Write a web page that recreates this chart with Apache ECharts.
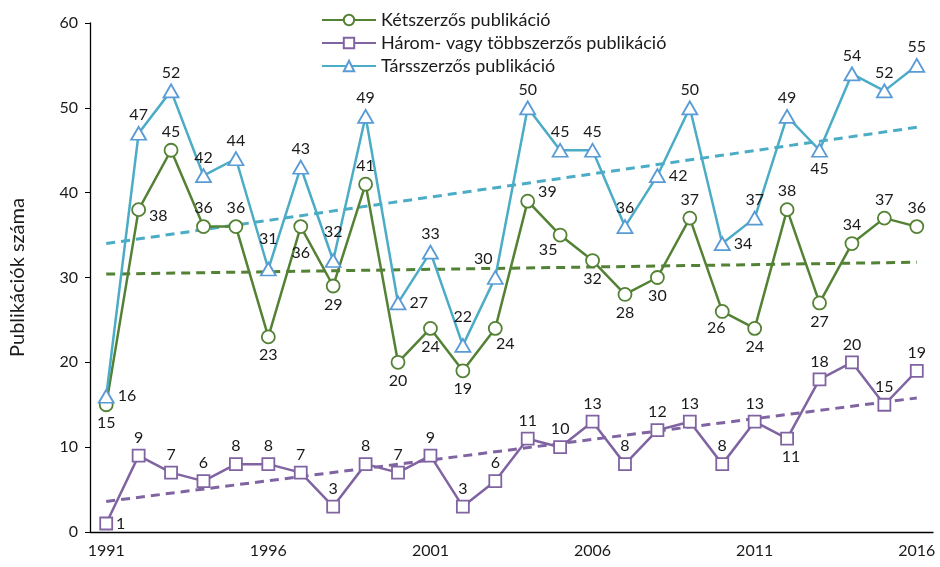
<!DOCTYPE html>
<html>
<head>
<meta charset="utf-8">
<script src="https://cdn.jsdelivr.net/npm/echarts@6/dist/echarts.min.js"></script>
<style>
  html, body { margin: 0; padding: 0; background: #fff; }
  #chart { width: 940px; height: 567px; }
</style>
</head>
<body>
<div id="chart"></div>
<script>
const years = ['1991','1992','1993','1994','1995','1996','1997','1998','1999','2000','2001','2002','2003',
  '2004','2005','2006','2007','2008','2009','2010','2011','2012','2013','2014','2015','2016'];
const ketszerzos = [15, 38, 45, 36, 36, 23, 36, 29, 41, 20, 24, 19, 24, 39, 35, 32, 28, 30, 37, 26, 24, 38, 27, 34, 37, 36];
const harom = [1, 9, 7, 6, 8, 8, 7, 3, 8, 7, 9, 3, 6, 11, 10, 13, 8, 12, 13, 8, 13, 11, 18, 20, 15, 19];
const tarsszerzos = [16, 47, 52, 42, 44, 31, 43, 32, 49, 27, 33, 22, 30, 50, 45, 45, 36, 42, 50, 34, 37, 49, 45, 54, 52, 55];
// trend line end values (1991, 2016)
const trendKet = [30.4, 31.8];
const trendHarom = [3.6, 15.8];
const trendTars = [34.0, 47.7];

// label placement per point: [position, dx, dy]
const posKet = [['bottom'],['right',0,6],['top'],['top'],['top'],['bottom'],['bottom',0,8],['bottom'],['top'],['bottom'],
  ['bottom'],['bottom'],['bottom',10,-3],['right',0,-9],['bottom',-12,-4],['bottom'],['bottom'],['bottom'],['top'],
  ['bottom',-6,-2],['bottom'],['top'],['bottom'],['top'],['top'],['top']];
const posHarom = years.map((y, i) => i === 0 ? ['right'] : (i === 21 ? ['bottom', 4, 0] : ['top']));
const posTars = years.map(() => ['top']);
posTars[0] = ['right'];
posTars[5] = ['top', 0, -12];
posTars[7] = ['top', 0, -10];
posTars[9] = ['right'];
posTars[11] = ['top', 0, -10];
posTars[12] = ['top', -12, 0];
posTars[17] = ['right'];
posTars[19] = ['right'];
posTars[22] = ['bottom'];

const FONT = 'Lato';

function withLabels(values, pos) {
  return values.map((v, i) => ({
    value: v,
    label: { position: pos[i][0], offset: [pos[i][1] || 0, pos[i][2] || 0] }
  }));
}

function trend(ends) {
  return years.map((y, i) => i === 0 ? ends[0] : (i === years.length - 1 ? ends[1] : null));
}

const labelStyle = { show: true, color: '#1a1a1a', fontSize: 16, fontFamily: FONT, distance: 3 };

const chart = echarts.init(document.getElementById('chart'));
chart.setOption({
  animation: false,
  textStyle: { fontFamily: FONT },
  grid: { left: 89, right: 7, top: 23, bottom: 35 },
  legend: {
    orient: 'vertical',
    left: 316,
    top: 5,
    itemWidth: 54,
    itemHeight: 13,
    itemGap: 3,
    textStyle: { fontSize: 18, color: '#1a1a1a', fontFamily: FONT, lineHeight: 20 },
    data: ['Kétszerzős publikáció', 'Három- vagy többszerzős publikáció', 'Társszerzős publikáció']
  },
  xAxis: {
    type: 'category',
    data: years,
    boundaryGap: true,
    axisLine: { lineStyle: { color: '#000', width: 1.3 } },
    axisTick: { interval: 0, length: 5, lineStyle: { color: '#000' } },
    axisLabel: { interval: 4, color: '#1a1a1a', fontSize: 16, margin: 11, fontFamily: FONT }
  },
  yAxis: {
    type: 'value',
    min: 0,
    max: 60,
    interval: 10,
    name: 'Publikációk száma',
    nameLocation: 'middle',
    nameGap: 62,
    nameTextStyle: { fontSize: 20, color: '#1a1a1a', fontFamily: FONT },
    axisLine: { show: true, lineStyle: { color: '#000', width: 1.3 } },
    axisTick: { show: true, length: 5, lineStyle: { color: '#000' } },
    splitLine: { show: false },
    axisLabel: { color: '#1a1a1a', fontSize: 16, margin: 12, fontFamily: FONT }
  },
  series: [
    {
      name: 'Kétszerzős publikáció',
      type: 'line',
      data: withLabels(ketszerzos, posKet),
      symbol: 'circle',
      symbolSize: 13,
      lineStyle: { color: '#548235', width: 2.5 },
      itemStyle: { color: '#fff', borderColor: '#548235', borderWidth: 1.8 },
      label: labelStyle,
      z: 3
    },
    {
      name: 'Három- vagy többszerzős publikáció',
      type: 'line',
      data: withLabels(harom, posHarom),
      symbol: 'rect',
      symbolSize: 12,
      lineStyle: { color: '#8064A2', width: 2.5 },
      itemStyle: { color: '#fff', borderColor: '#8064A2', borderWidth: 1.8 },
      label: labelStyle,
      z: 3
    },
    {
      name: 'Társszerzős publikáció',
      type: 'line',
      data: withLabels(tarsszerzos, posTars),
      symbol: 'triangle',
      symbolSize: [15, 13],
      lineStyle: { color: '#4BACC6', width: 2.5 },
      itemStyle: { color: '#fff', borderColor: '#5B9BD5', borderWidth: 1.8 },
      label: labelStyle,
      z: 3
    },
    {
      name: 'trend1',
      type: 'line',
      data: trend(trendKet),
      connectNulls: true,
      symbol: 'none',
      lineStyle: { color: '#538135', width: 3, type: [9, 6] },
      z: 2,
      silent: true
    },
    {
      name: 'trend2',
      type: 'line',
      data: trend(trendHarom),
      connectNulls: true,
      symbol: 'none',
      lineStyle: { color: '#8064A2', width: 3, type: [9, 6] },
      z: 2,
      silent: true
    },
    {
      name: 'trend3',
      type: 'line',
      data: trend(trendTars),
      connectNulls: true,
      symbol: 'none',
      lineStyle: { color: '#4BACC6', width: 3, type: [9, 6] },
      z: 2,
      silent: true
    }
  ]
});
</script>
</body>
</html>
